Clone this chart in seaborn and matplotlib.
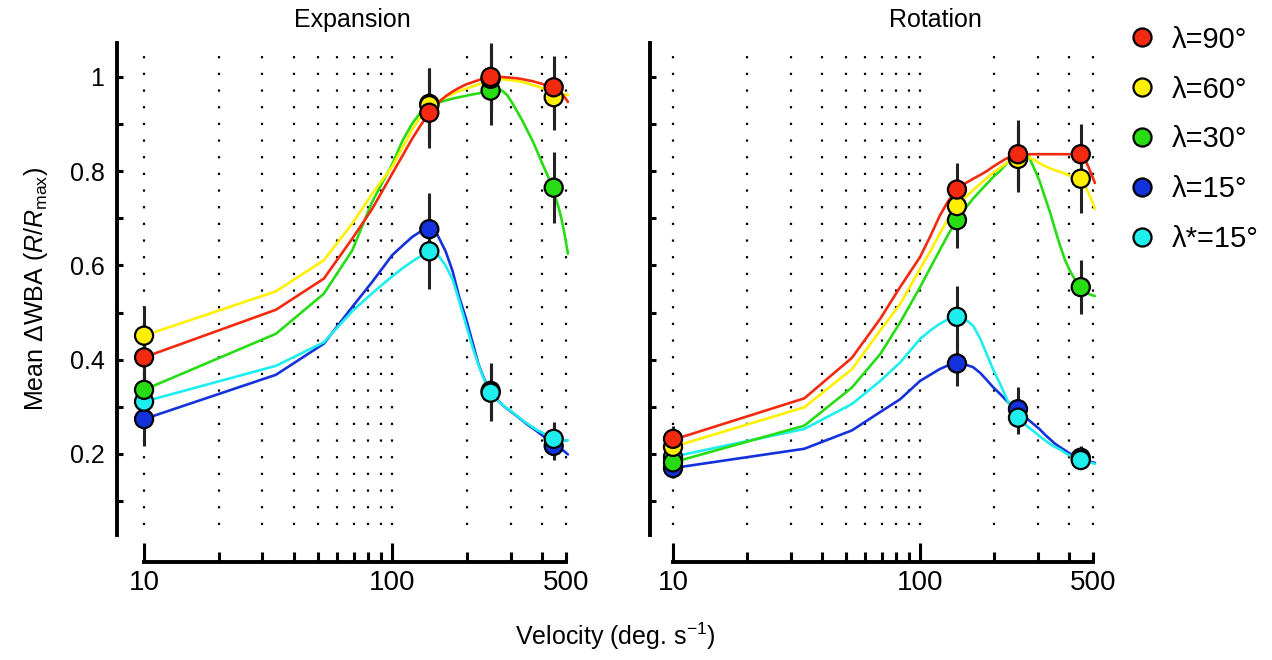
import numpy as np
import pandas as pd
import matplotlib
matplotlib.use("Agg")
import matplotlib.pyplot as plt
from matplotlib.lines import Line2D
from matplotlib.ticker import FixedLocator, FixedFormatter, NullFormatter
import seaborn as sns

# Conditions (plot order: drawn bottom -> top)
conditions = ["λ=15°", "λ*=15°", "λ=30°", "λ=60°", "λ=90°"]
legend_order = ["λ=90°", "λ=60°", "λ=30°", "λ=15°", "λ*=15°"]
colors = {"λ=90°": "#f42a10", "λ=60°": "#fff000", "λ=30°": "#28dc14",
          "λ=15°": "#1432dc", "λ*=15°": "#1eeeee"}

# Measured velocities (deg/s)
point_vel = [10, 141, 249, 447]

# Expansion - data points and errors
exp_pts = {
    "λ=90°": [0.405, 0.924, 1.000, 0.978],
    "λ=60°": [0.451, 0.940, 0.996, 0.957],
    "λ=30°": [0.336, 0.943, 0.971, 0.765],
    "λ=15°": [0.274, 0.677, 0.334, 0.217],
    "λ*=15°": [0.311, 0.630, 0.330, 0.232],
}
exp_err = {
    "λ=90°": [0.06, 0.075, 0.072, 0.067],
    "λ=60°": [0.062, 0.08, 0.07, 0.07],
    "λ=30°": [0.06, 0.075, 0.073, 0.076],
    "λ=15°": [0.057, 0.077, 0.06, 0.03],
    "λ*=15°": [0.06, 0.08, 0.06, 0.035],
}

# Rotation - data points and errors
rot_pts = {
    "λ=90°": [0.232, 0.761, 0.836, 0.836],
    "λ=60°": [0.215, 0.726, 0.826, 0.784],
    "λ=30°": [0.182, 0.696, 0.828, 0.554],
    "λ=15°": [0.170, 0.392, 0.295, 0.192],
    "λ*=15°": [0.194, 0.491, 0.277, 0.187],
}
rot_err = {
    "λ=90°": [0.028, 0.057, 0.072, 0.064],
    "λ=60°": [0.03, 0.06, 0.07, 0.073],
    "λ=30°": [0.03, 0.058, 0.07, 0.058],
    "λ=15°": [0.02, 0.047, 0.048, 0.025],
    "λ*=15°": [0.02, 0.065, 0.034, 0.02],
}

# Model fit curves
curve_vel = [10, 34, 53, 69, 83, 100, 110, 120, 130, 141, 152, 164, 175, 186, 198, 211,
             222, 231, 240, 249, 262, 275, 290, 304, 320, 336, 351, 367, 385, 403, 425,
             447, 465, 480, 495, 510]
exp_curves = {
    "λ=90°": [0.405, 0.506, 0.572, 0.657, 0.720, 0.795, 0.833, 0.868, 0.897, 0.924, 0.944, 0.959,
              0.969, 0.977, 0.984, 0.989, 0.993, 0.996, 0.998, 0.999, 1.000, 1.000, 0.999, 0.998,
              0.997, 0.995, 0.993, 0.991, 0.988, 0.985, 0.981, 0.976, 0.970, 0.965, 0.957, 0.947],
    "λ=60°": [0.451, 0.545, 0.611, 0.689, 0.752, 0.810, 0.850, 0.888, 0.915, 0.935, 0.948, 0.957,
              0.964, 0.970, 0.975, 0.980, 0.984, 0.987, 0.990, 0.992, 0.994, 0.995, 0.994, 0.993,
              0.991, 0.989, 0.986, 0.983, 0.980, 0.976, 0.972, 0.968, 0.966, 0.964, 0.963, 0.962],
    "λ=30°": [0.336, 0.455, 0.540, 0.632, 0.735, 0.815, 0.865, 0.900, 0.925, 0.938, 0.945, 0.950,
              0.954, 0.957, 0.960, 0.963, 0.965, 0.967, 0.969, 0.971, 0.973, 0.972, 0.962, 0.945,
              0.925, 0.905, 0.885, 0.865, 0.840, 0.815, 0.788, 0.755, 0.728, 0.700, 0.665, 0.625],
    "λ=15°": [0.274, 0.368, 0.434, 0.512, 0.565, 0.622, 0.642, 0.660, 0.672, 0.677, 0.665, 0.630,
              0.588, 0.533, 0.488, 0.435, 0.392, 0.368, 0.348, 0.333, 0.318, 0.306, 0.296, 0.288,
              0.279, 0.270, 0.262, 0.255, 0.247, 0.239, 0.230, 0.222, 0.216, 0.210, 0.205, 0.199],
    "λ*=15°": [0.311, 0.387, 0.437, 0.503, 0.541, 0.577, 0.594, 0.608, 0.620, 0.630, 0.624, 0.600,
               0.570, 0.525, 0.475, 0.425, 0.390, 0.366, 0.347, 0.330, 0.317, 0.306, 0.297, 0.289,
               0.280, 0.271, 0.264, 0.257, 0.250, 0.245, 0.238, 0.233, 0.231, 0.230, 0.229, 0.229],
}
rot_curves = {
    "λ=90°": [0.230, 0.318, 0.404, 0.487, 0.554, 0.618, 0.662, 0.705, 0.737, 0.760, 0.774, 0.784,
              0.792, 0.800, 0.810, 0.819, 0.826, 0.830, 0.833, 0.835, 0.836, 0.836, 0.836, 0.836,
              0.836, 0.836, 0.836, 0.836, 0.836, 0.836, 0.836, 0.836, 0.825, 0.809, 0.792, 0.775],
    "λ=60°": [0.215, 0.299, 0.380, 0.462, 0.518, 0.593, 0.630, 0.667, 0.699, 0.726, 0.744, 0.760,
              0.773, 0.785, 0.797, 0.807, 0.816, 0.822, 0.826, 0.829, 0.830, 0.829, 0.824, 0.817,
              0.811, 0.806, 0.802, 0.799, 0.795, 0.791, 0.787, 0.782, 0.770, 0.754, 0.738, 0.720],
    "λ=30°": [0.182, 0.260, 0.341, 0.412, 0.479, 0.554, 0.595, 0.632, 0.666, 0.696, 0.720, 0.742,
              0.758, 0.773, 0.788, 0.801, 0.814, 0.823, 0.828, 0.831, 0.834, 0.832, 0.805, 0.780,
              0.745, 0.712, 0.678, 0.645, 0.613, 0.590, 0.568, 0.555, 0.546, 0.540, 0.537, 0.535],
    "λ=15°": [0.170, 0.211, 0.250, 0.289, 0.316, 0.355, 0.368, 0.380, 0.388, 0.392, 0.390, 0.384,
              0.372, 0.357, 0.341, 0.327, 0.315, 0.306, 0.300, 0.295, 0.283, 0.272, 0.262, 0.253,
              0.241, 0.231, 0.222, 0.215, 0.208, 0.201, 0.196, 0.192, 0.188, 0.185, 0.183, 0.181],
    "λ*=15°": [0.194, 0.253, 0.306, 0.355, 0.394, 0.444, 0.462, 0.476, 0.486, 0.491, 0.486, 0.472,
               0.445, 0.412, 0.378, 0.348, 0.322, 0.302, 0.289, 0.279, 0.266, 0.256, 0.247, 0.238,
               0.229, 0.221, 0.215, 0.210, 0.203, 0.197, 0.192, 0.188, 0.185, 0.183, 0.181, 0.179],
}

major_x = [10, 100, 500]
minor_x = [20, 30, 40, 50, 60, 70, 80, 90, 200, 300, 400]
major_y = [0.2, 0.4, 0.6, 0.8, 1.0]
major_y_labels = ["0.2", "0.4", "0.6", "0.8", "1"]
minor_y = [0.1, 0.3, 0.5, 0.7, 0.9]

sns.set_style("white")
plt.rcParams["font.family"] = ["Liberation Sans", "DejaVu Sans"]
plt.rcParams["mathtext.fontset"] = "custom"
plt.rcParams["mathtext.rm"] = "Liberation Sans"
plt.rcParams["mathtext.it"] = "Liberation Sans:italic"
for key in ["text.color", "axes.labelcolor", "xtick.color", "ytick.color", "axes.edgecolor"]:
    plt.rcParams[key] = "black"

W, H = 1272, 660
fig = plt.figure(figsize=(W / 100, H / 100), dpi=100)


def px_axes(left, right, top, bottom):
    return fig.add_axes([left / W, 1 - bottom / H, (right - left) / W, (bottom - top) / H])


def draw_panel(ax, pts, errs, curves, xlim, show_ylabels):
    curve_df = pd.concat([pd.DataFrame({"vel": curve_vel, "resp": curves[c], "cond": c})
                          for c in conditions], ignore_index=True)
    pts_df = pd.concat([pd.DataFrame({"vel": point_vel, "resp": pts[c], "err": errs[c], "cond": c})
                        for c in conditions], ignore_index=True)

    ax.set_xscale("log")
    ax.set_xlim(*xlim)
    ax.set_ylim(0.028, 1.072)

    # dotted vertical grid
    for xv in major_x + minor_x:
        ax.axvline(xv, ymin=0.02, ymax=0.98, color="black", lw=1.6,
                   linestyle=(0, (1, 6.5)), zorder=0)

    sns.lineplot(data=curve_df, x="vel", y="resp", hue="cond", hue_order=conditions,
                 palette=colors, sort=False, estimator=None, lw=1.9, legend=False,
                 ax=ax, zorder=2)
    ax.errorbar(pts_df["vel"], pts_df["resp"], yerr=pts_df["err"], fmt="none",
                ecolor="#222222", elinewidth=2.2, capsize=0, zorder=3)
    sns.scatterplot(data=pts_df, x="vel", y="resp", hue="cond", hue_order=conditions,
                    palette=colors, s=170, edgecolor="black", linewidth=1.6,
                    legend=False, ax=ax, zorder=4)

    ax.set_xlabel("")
    ax.set_ylabel("")
    for s in ["top", "right"]:
        ax.spines[s].set_visible(False)
    ax.spines["left"].set_linewidth(2.8)
    ax.spines["bottom"].set_linewidth(2.8)
    ax.spines["bottom"].set_position(("outward", 19.5))
    ax.spines["bottom"].set_bounds(10, 500)

    ax.xaxis.set_major_locator(FixedLocator(major_x))
    ax.xaxis.set_major_formatter(FixedFormatter(["10", "100", "500"]))
    ax.xaxis.set_minor_locator(FixedLocator(minor_x))
    ax.xaxis.set_minor_formatter(NullFormatter())
    ax.tick_params(axis="x", which="major", direction="in", length=14, width=2.2,
                   labelsize=20, pad=6, bottom=True)
    ax.tick_params(axis="x", which="minor", direction="in", length=7, width=2.2, bottom=True)
    ax.xaxis.get_major_ticks()[2].tick1line.set_markersize(7)

    ax.yaxis.set_major_locator(FixedLocator(major_y))
    ax.yaxis.set_minor_locator(FixedLocator(minor_y))
    ax.tick_params(axis="y", which="both", direction="in", length=4, width=2.2,
                   labelsize=18, pad=9, left=True)
    if show_ylabels:
        ax.yaxis.set_major_formatter(FixedFormatter(major_y_labels))
    else:
        ax.yaxis.set_major_formatter(NullFormatter())
    ax.yaxis.set_minor_formatter(NullFormatter())


ax1 = px_axes(117, 570, 43, 535)
draw_panel(ax1, exp_pts, exp_err, exp_curves, (7.78, 520), True)
ax1.set_ylabel(r"Mean $\Delta$WBA ($\mathit{R}/\mathit{R}_{\mathrm{max}}$)", fontsize=18, labelpad=14)

ax2 = px_axes(650, 1097, 43, 535)
draw_panel(ax2, rot_pts, rot_err, rot_curves, (8.07, 520), False)

fig.text(352 / W, 1 - 20 / H, "Expansion", fontsize=18, ha="center", va="center")
fig.text(935 / W, 1 - 20 / H, "Rotation", fontsize=18, ha="center", va="center")
fig.text(615 / W, 1 - 636 / H, r"Velocity (deg. s$^{-1}$)", fontsize=18, ha="center", va="center")

handles = [Line2D([0], [0], marker="o", linestyle="none", markersize=13,
                  markerfacecolor=colors[c], markeredgecolor="black", markeredgewidth=1.6)
           for c in legend_order]
fig.legend(handles, legend_order, loc="upper left", bbox_to_anchor=(1118 / W, 1 - 14 / H),
           frameon=False, fontsize=21, labelspacing=0.75, handletextpad=0.6,
           handlelength=0.84, borderaxespad=0)

fig.savefig("out.png", dpi=100)
